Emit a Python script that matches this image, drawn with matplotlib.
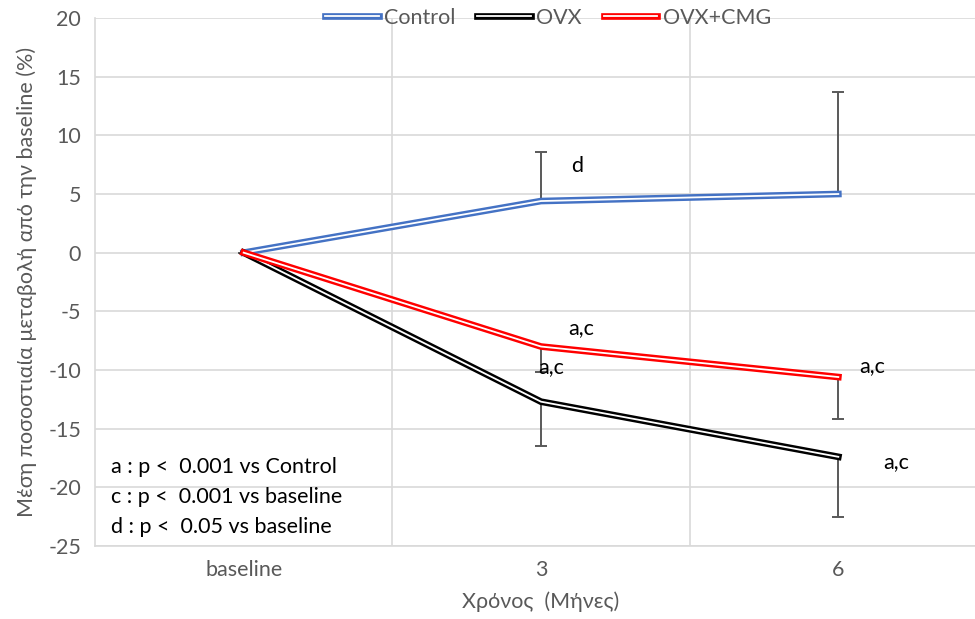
import numpy as np
import matplotlib.pyplot as plt
import matplotlib.patheffects as pe

plt.rcParams['font.family'] = ['Lato', 'Noto Sans', 'DejaVu Sans']
plt.rcParams['axes.unicode_minus'] = False

categories = ['baseline', '3', '6']
control = [0.0, 4.4, 5.0]
ovx = [0.0, -12.7, -17.4]
ovx_cmg = [0.0, -8.0, -10.6]
control_err_up = [0.0, 4.2, 8.7]
ovx_err_down = [0.0, 3.8, 5.1]
cmg_err_down = [0.0, 2.2, 3.6]

notes = ['a : p <  0.001 vs Control', 'c : p <  0.001 vs baseline', 'd : p <  0.05 vs baseline']

fig = plt.figure(figsize=(9.75, 6.19), dpi=100)
ax = fig.add_axes([95 / 975, 1 - 546 / 619, 892 / 975, 528 / 619])

x = np.arange(len(categories))
grey = '#595959'
grid = '#d9d9d9'
fs = 15.5


def double_line(xs, ys, color, label):
    ln, = ax.plot(xs, ys, color='white', lw=1.3, label=label, zorder=3,
                  solid_joinstyle='miter',
                  path_effects=[pe.Stroke(linewidth=4.8, foreground=color), pe.Normal()])
    return ln


def err_bars(xs, y0, y1):
    ax.vlines(xs, y0, y1, color=grey, lw=1.4, zorder=2)
    ax.plot(xs, y1, ls='none', marker='_', ms=9, mew=1.4, color=grey, zorder=2)


err_bars(x, control, np.array(control) + np.array(control_err_up))
err_bars(x, ovx, np.array(ovx) - np.array(ovx_err_down))
err_bars(x, ovx_cmg, np.array(ovx_cmg) - np.array(cmg_err_down))

double_line(x, control, '#4472c4', 'Control')
double_line(x, ovx, 'black', 'OVX')
double_line(x, ovx_cmg, '#ff0000', 'OVX+CMG')

ax.set_xlim(-0.5, 2.5)
ax.set_ylim(-25, 20)
ax.set_yticks(np.arange(-25, 21, 5))
ax.set_xticks(x)
ax.set_xticklabels(categories)
ax.set_xticks([0.5, 1.5], minor=True)
ax.grid(axis='y', color=grid, lw=1.2)
ax.grid(axis='x', which='minor', color=grid, lw=1.2)
ax.set_axisbelow(True)
for s in ['top', 'right']:
    ax.spines[s].set_visible(False)
for s in ['left', 'bottom']:
    ax.spines[s].set_color(grid)
    ax.spines[s].set_linewidth(1.2)
ax.tick_params(axis='both', which='both', length=0, labelsize=fs, labelcolor=grey, pad=10)

ax.set_ylabel('Μέση ποσοστιαία μεταβολή από την baseline (%)', fontsize=fs, color=grey, labelpad=8)
ax.set_xlabel('Χρόνος  (Μήνες)', fontsize=fs, color=grey, labelpad=8)

# significance labels
ax.text(1.1, 6.9, 'd', fontsize=fs)
ax.text(1.09, -6.9, 'a,c', fontsize=fs)
ax.text(0.99, -10.3, 'a,c', fontsize=fs)
ax.text(2.07, -10.2, 'a,c', fontsize=fs)
ax.text(2.15, -18.4, 'a,c', fontsize=fs)

for i, t in enumerate(notes):
    ax.text(-0.445, -18.8 - i * 2.55, t, fontsize=fs)

leg = ax.legend(loc='center', bbox_to_anchor=(0.508, 1.0), ncol=3, frameon=False,
                fontsize=fs, handlelength=2.5, columnspacing=1.0, handletextpad=0.25)
for t in leg.get_texts():
    t.set_color(grey)

fig.savefig('out.png', dpi=100)
